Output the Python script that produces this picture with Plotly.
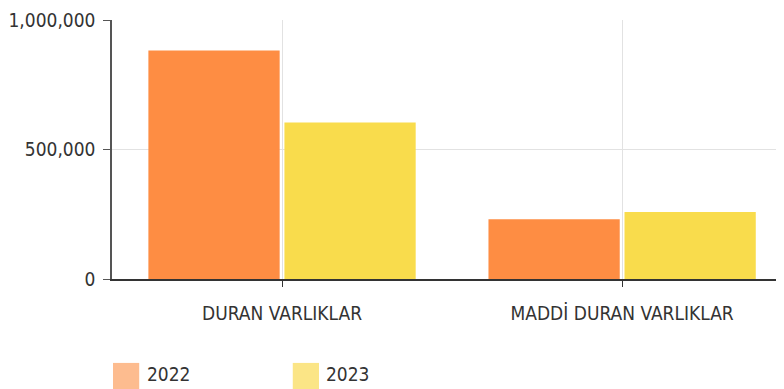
import plotly.graph_objects as go

categories = ["DURAN VARLIKLAR", "MADDİ DURAN VARLIKLAR"]
years = ["2022", "2023"]
values_2022 = [882000, 231000]
values_2023 = [604000, 259000]

BAR_COLORS = {"2022": "#FE8D43", "2023": "#F9DC4C"}
SWATCH_COLORS = {"2022": "#FDBC8F", "2023": "#FBE586"}
FONT = "DejaVu Sans Condensed, DejaVu Sans, sans-serif"

fig = go.Figure()
for year, vals in zip(years, [values_2022, values_2023]):
    fig.add_trace(
        go.Bar(
            x=categories,
            y=vals,
            name=year,
            marker={"color": BAR_COLORS[year], "line": {"width": 0}},
            showlegend=False,
        )
    )

# legend drawn by hand so the swatches can be the large squares of the original
legend_x = [0.0015, 0.269]
for year, x0 in zip(years, legend_x):
    fig.add_shape(
        type="rect",
        xref="paper",
        yref="paper",
        x0=x0,
        x1=x0 + 0.039,
        y0=-0.425,
        y1=-0.324,
        fillcolor=SWATCH_COLORS[year],
        line={"width": 0},
    )
    fig.add_annotation(
        text=year,
        xref="paper",
        yref="paper",
        x=x0 + 0.047,
        y=-0.365,
        xanchor="left",
        yanchor="middle",
        showarrow=False,
        font={"size": 19, "color": "#333333", "family": FONT},
    )

# page body keeps an 8px margin, so the figure is sized to the visible part
fig.update_layout(
    barmode="group",
    bargap=0.2,
    bargroupgap=0.035,
    width=776,
    height=381,
    paper_bgcolor="white",
    plot_bgcolor="white",
    margin={"l": 104, "r": 0, "t": 12, "b": 110, "autoexpand": False},
    font={"family": FONT, "size": 18, "color": "#333333"},
)
fig.update_xaxes(
    range=[-0.5, 1.476],
    automargin=False,
    showgrid=True,
    gridcolor="#e2e2e2",
    showline=True,
    linecolor="#333333",
    linewidth=1.5,
    ticks="outside",
    ticklen=6,
    tickcolor="#333333",
    ticklabelstandoff=10,
    tickfont={"size": 19, "color": "#333333", "family": FONT},
)
fig.update_yaxes(
    range=[0, 1000000],
    automargin=False,
    dtick=500000,
    tickformat=",",
    showgrid=True,
    gridcolor="#e2e2e2",
    zeroline=False,
    showline=True,
    linecolor="#555555",
    linewidth=1.5,
    ticks="outside",
    ticklen=7,
    tickcolor="#555555",
    ticklabelstandoff=4,
    tickfont={"size": 19, "color": "#333333", "family": FONT},
)

fig.write_html("out.html")
